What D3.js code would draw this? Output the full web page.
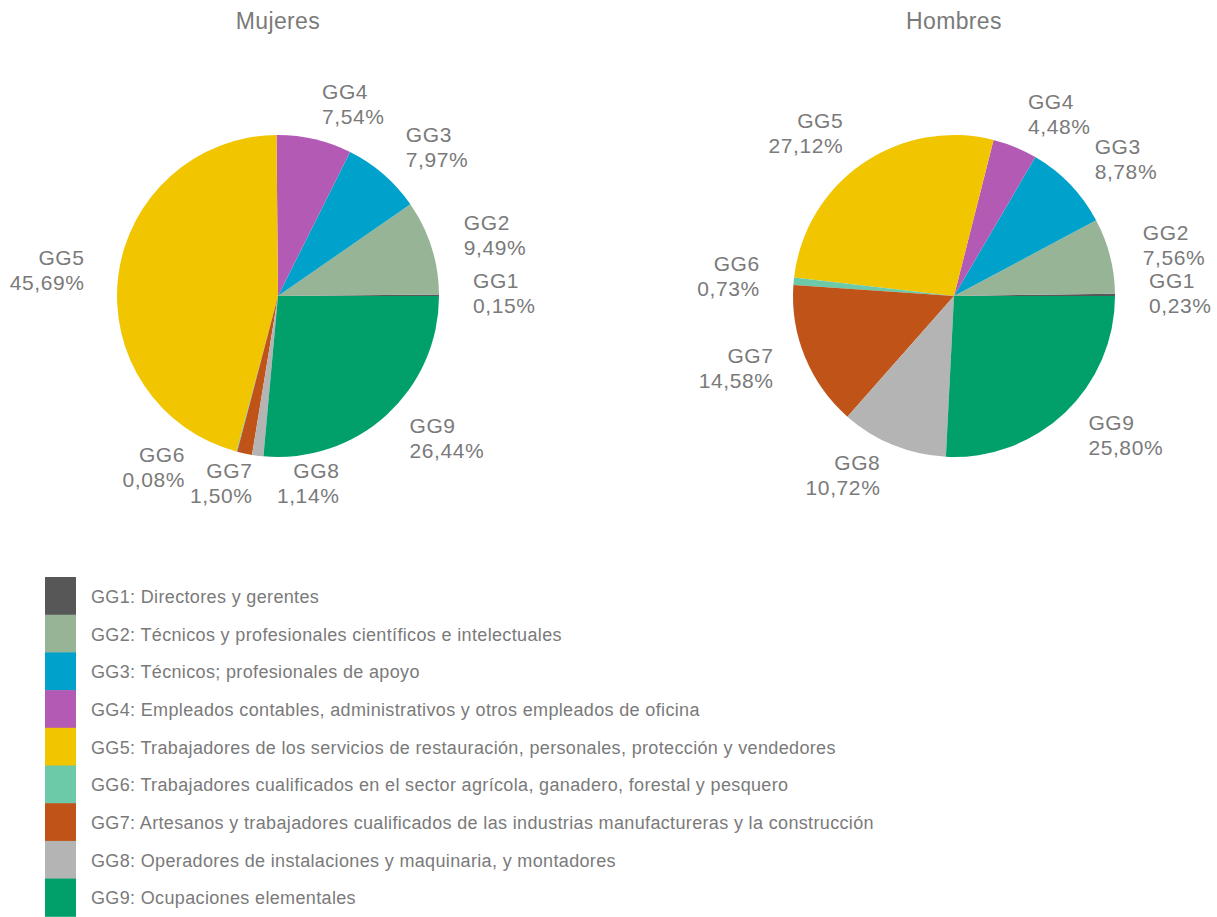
<!DOCTYPE html>
<html>
<head>
<meta charset="utf-8">
<script src="https://cdn.jsdelivr.net/npm/d3@7"></script>
<style>
  body { margin: 0; background: #fff; font-family: "Liberation Sans", Arial, sans-serif; }
  #chart { width: 1217px; height: 917px; }
</style>
</head>
<body>
<div id="chart"></div>
<script>
// Data (percentages)
const categories = ["GG1", "GG2", "GG3", "GG4", "GG5", "GG6", "GG7", "GG8", "GG9"];
const descriptions = [
    "Directores y gerentes",
    "Técnicos y profesionales científicos e intelectuales",
    "Técnicos; profesionales de apoyo",
    "Empleados contables, administrativos y otros empleados de oficina",
    "Trabajadores de los servicios de restauración, personales, protección y vendedores",
    "Trabajadores cualificados en el sector agrícola, ganadero, forestal y pesquero",
    "Artesanos y trabajadores cualificados de las industrias manufactureras y la construcción",
    "Operadores de instalaciones y maquinaria, y montadores",
    "Ocupaciones elementales"
];
const mujeresValues = [0.15, 9.49, 7.97, 7.54, 45.69, 0.08, 1.50, 1.14, 26.44];
const hombresValues = [0.23, 7.56, 8.78, 4.48, 27.12, 0.73, 14.58, 10.72, 25.80];

const palette = ["#575757", "#97b497", "#00a1ca", "#b35bb4", "#f1c500", "#6dcaa8", "#bf5318", "#b4b4b4", "#01a06b"];

const width = 1217, height = 917;
const radius = 161;
const labelRadius = 195;
const textColor = "#7a7a7a";

const svg = d3.select("#chart").append("svg")
    .attr("width", width)
    .attr("height", height);

const color = d3.scaleOrdinal().domain(categories).range(palette);

// small slices at the bottom of the women's pie get pushed apart (dx, dy)
const labelNudge = {
    "Mujeres": { "GG6": [-43, -16], "GG7": [15, -2], "GG8": [86, -4] },
    "Hombres": {}
};

const fmt = v => d3.format(".2f")(v).replace(".", ",") + "%";

function drawPie(title, values, cx, cy) {
    const rows = categories.map((c, i) => ({ cat: c, value: values[i] }));

    // first slice starts at 3 o'clock, slices go counterclockwise
    const pie = d3.pie()
        .value(d => d.value)
        .sort(null)
        .startAngle(Math.PI / 2)
        .endAngle(Math.PI / 2 - 2 * Math.PI);

    const arc = d3.arc().innerRadius(0).outerRadius(radius);

    const g = svg.append("g")
        .attr("transform", `translate(${cx}, ${cy})`);

    g.selectAll("path")
        .data(pie(rows))
        .enter()
        .append("path")
        .attr("d", arc)
        .attr("fill", d => color(d.data.cat));

    svg.append("text")
        .attr("x", cx)
        .attr("y", 29)
        .attr("text-anchor", "middle")
        .attr("fill", textColor)
        .style("font-size", "23px")
        .style("letter-spacing", "0.35px")
        .text(title);

    g.selectAll(".slice-label")
        .data(pie(rows))
        .enter()
        .append("text")
        .attr("class", "slice-label")
        .attr("fill", textColor)
        .style("font-size", "21px")
        .style("letter-spacing", "0.6px")
        .each(function(d) {
            const a = (d.startAngle + d.endAngle) / 2;
            const nudge = labelNudge[title][d.data.cat] || [0, 0];
            const x = labelRadius * Math.sin(a) + nudge[0];
            const y = -labelRadius * Math.cos(a) + nudge[1];
            const anchor = Math.sin(a) >= 0 ? "start" : "end";
            const t = d3.select(this).attr("text-anchor", anchor);
            t.append("tspan").attr("x", x).attr("y", y - 7).text(d.data.cat);
            t.append("tspan").attr("x", x).attr("y", y + 18).text(fmt(d.data.value));
        });
}

drawPie("Mujeres", mujeresValues, 278, 296);
drawPie("Hombres", hombresValues, 954, 296);

// Legend
const legendTop = 577, rowH = 37.7;
const legend = svg.append("g").attr("class", "legend");

legend.selectAll("rect")
    .data(categories)
    .enter()
    .append("rect")
    .attr("x", 45)
    .attr("y", (d, i) => legendTop + i * rowH)
    .attr("width", 31)
    .attr("height", rowH + 0.5)
    .attr("fill", d => color(d));

legend.selectAll("text")
    .data(categories)
    .enter()
    .append("text")
    .attr("x", 91)
    .attr("y", (d, i) => legendTop + i * rowH + rowH / 2 + 7)
    .attr("fill", textColor)
    .style("font-size", "18px")
    .style("letter-spacing", "0.35px")
    .text((d, i) => `${d}: ${descriptions[i]}`);
</script>
</body>
</html>
